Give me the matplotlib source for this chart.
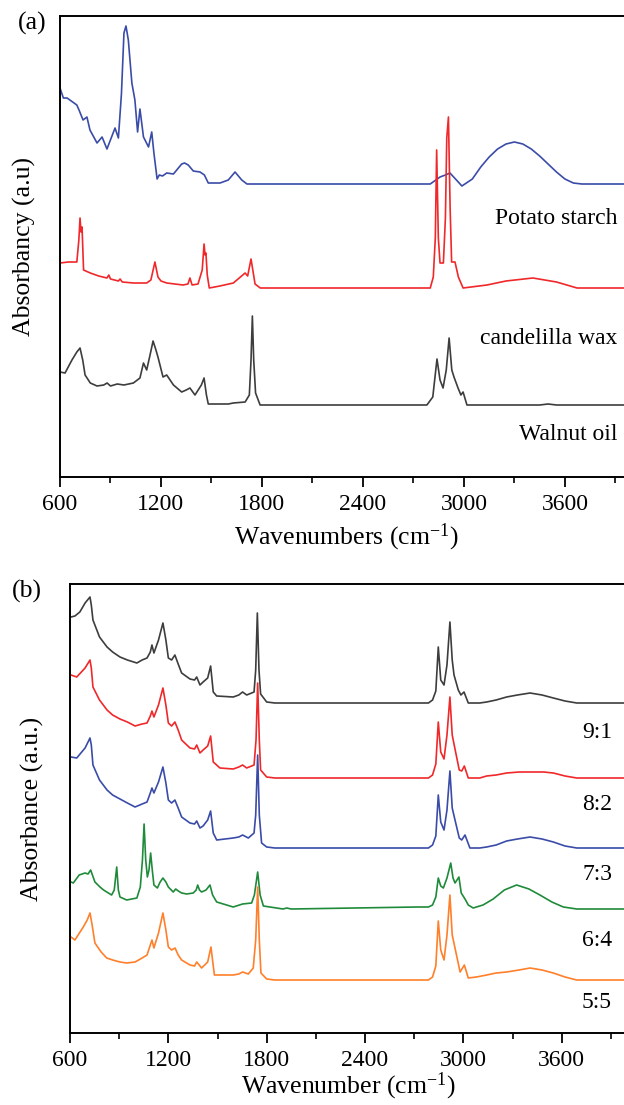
import numpy as np
import matplotlib
matplotlib.use("Agg")
import matplotlib.pyplot as plt
from matplotlib.ticker import MultipleLocator

plt.rcParams['font.family'] = ['Liberation Serif', 'DejaVu Serif']
plt.rcParams['mathtext.fontset'] = 'custom'
plt.rcParams['mathtext.rm'] = 'Liberation Serif'
plt.rcParams['mathtext.default'] = 'regular'

### Panel (a): pure components (absorbance above own baseline, a.u.)
starch_wn = [600, 620, 642, 700, 713, 737, 760, 778, 820, 850, 879, 927, 947, 965, 980, 992,
             1006, 1027, 1045, 1061, 1075, 1096, 1126, 1145, 1158, 1177, 1190, 1209, 1234,
             1274, 1323, 1340, 1362, 1392, 1432, 1458, 1481, 1551, 1600, 1640, 1680, 1711,
             2800, 2858, 2890, 2917, 2950, 2988, 3050, 3100, 3150, 3200, 3250, 3300, 3350,
             3400, 3450, 3500, 3550, 3600, 3650, 3700, 3950]
starch_abs = [96, 86, 86, 79, 74, 64, 67, 54, 41, 47, 35, 56, 46, 90, 151, 158,
              144, 101, 84, 52, 75, 47, 37, 52, 31, 5, 9, 8, 11,
              10, 20, 21, 19, 13, 12, 9, 1, 1, 4, 12, 4, 0,
              0, 7, 9, 11, 5, -2, 5, 17, 27, 35, 40, 42, 40,
              35, 28, 20, 12, 5, 1, 0, 0]

wax_wn = [600, 650, 700, 712, 719, 725, 731, 740, 780, 830, 879, 890, 900, 947, 957, 970,
          1036, 1115, 1140, 1164, 1182, 1200, 1234, 1331, 1360, 1372, 1385, 1420, 1445,
          1456, 1462, 1467, 1475, 1487, 1550, 1630, 1700, 1715, 1735, 1759, 1790,
          2800, 2818, 2830, 2838, 2848, 2858, 2878, 2890, 2898, 2908, 2918, 2927, 2947,
          2967, 2995, 3137, 3250, 3410, 3550, 3672, 3950]
wax_abs = [25, 26, 26, 48, 70, 56, 61, 18, 15, 12, 10, 13, 9, 7, 9, 6,
           5, 5, 8, 26, 11, 7, 5, 3, 4, 10, 3, 4, 18,
           44, 33, 35, 13, 0, 2, 5, 15, 12, 29, 4, 0,
           0, 11, 50, 138, 50, 25, 25, 70, 150, 171, 80, 26, 26,
           11, 0, 3, 7, 10, 6, 0, 0]

walnut_wn = [600, 630, 671, 700, 719, 735, 749, 780, 820, 860, 880, 900, 940, 980, 1036,
             1075, 1096, 1115, 1135, 1153, 1170, 1182, 1212, 1234, 1274, 1323, 1350, 1372,
             1402, 1440, 1456, 1470, 1481, 1600, 1630, 1700, 1725, 1735, 1743, 1751, 1762,
             1789, 2780, 2815, 2840, 2858, 2876, 2895, 2912, 2928, 2941, 2965, 2982, 2995,
             3018, 3450, 3500, 3550, 3950]
walnut_abs = [33, 32, 45, 53, 57, 45, 30, 22, 19, 20, 22, 19, 21, 20, 22,
              27, 42, 35, 50, 64, 55, 48, 28, 30, 20, 13, 15, 17,
              10, 20, 27, 10, 1, 1, 2, 3, 10, 45, 89, 45, 12,
              0, 0, 8, 46, 25, 17, 35, 67, 35, 28, 17, 10, 13,
              0, 0, 1, 0, 0]

### Panel (b): blends
ratio_labels = ['9:1', '8:2', '7:3', '6:4', '5:5']

b91_wn = [606, 630, 660, 692, 722, 730, 740, 780, 826, 860, 905, 950, 1008, 1040, 1070,
          1090, 1100, 1112, 1140, 1167, 1185, 1200, 1220, 1240, 1260, 1281, 1332, 1360,
          1373, 1393, 1412, 1440, 1458, 1474, 1495, 1596, 1630, 1653, 1678, 1723, 1733,
          1743, 1753, 1763, 1800, 1850, 2787, 2812, 2832, 2847, 2862, 2882, 2900, 2918,
          2932, 2943, 2969, 2985, 3004, 3030, 3100, 3142, 3200, 3264, 3330, 3407, 3480,
          3549, 3620, 3692, 3990]
b91_abs = [86, 87, 91, 100, 106, 98, 83, 66, 56, 51, 46, 43, 40, 43, 45,
           51, 58, 50, 63, 80, 63, 45, 43, 48, 39, 30, 24, 23,
           26, 18, 21, 25, 37, 11, 7, 6, 8, 11, 8, 11, 33,
           90, 33, 9, 1, 0, 0, 3, 12, 56, 23, 18, 38, 81,
           43, 28, 13, 8, 11, 0, 0, 1, 3, 6, 8, 10, 8,
           5, 2, 0, 0]

b82_wn = [606, 641, 692, 722, 730, 740, 780, 826, 860, 905, 950, 997, 1040, 1070, 1090,
          1100, 1112, 1140, 1167, 1185, 1200, 1220, 1240, 1260, 1281, 1332, 1360, 1373,
          1393, 1412, 1440, 1458, 1474, 1515, 1596, 1630, 1653, 1678, 1723, 1735, 1745,
          1755, 1763, 1800, 1850, 2787, 2812, 2832, 2847, 2862, 2882, 2900, 2918, 2932,
          2949, 2975, 2990, 3006, 3030, 3100, 3142, 3200, 3264, 3340, 3427, 3490, 3549,
          3620, 3692, 3990]
b82_abs = [103, 101, 110, 118, 110, 91, 78, 68, 63, 59, 56, 52, 54, 55, 62,
           67, 61, 73, 90, 73, 55, 52, 56, 48, 38, 30, 29, 33,
           25, 28, 32, 42, 16, 10, 9, 11, 13, 10, 13, 38, 95,
           38, 8, 1, 0, 0, 3, 14, 56, 26, 19, 43, 81, 43,
           29, 8, 7, 12, 0, 0, 2, 3, 5, 6, 6, 6, 5,
           2, 0, 0]

b73_wn = [606, 641, 692, 722, 730, 740, 780, 826, 860, 905, 950, 997, 1040, 1070, 1090,
          1100, 1112, 1140, 1167, 1185, 1200, 1220, 1240, 1260, 1281, 1332, 1360, 1373,
          1393, 1412, 1440, 1458, 1474, 1495, 1596, 1630, 1653, 1688, 1723, 1733, 1745,
          1755, 1769, 1800, 1850, 2787, 2812, 2832, 2847, 2862, 2882, 2900, 2918, 2932,
          2949, 2975, 2990, 3010, 3040, 3100, 3142, 3200, 3264, 3330, 3407, 3480, 3549,
          3620, 3692, 3990]
b73_abs = [91, 90, 100, 110, 103, 83, 68, 58, 53, 49, 45, 41, 44, 46, 55,
           60, 55, 66, 81, 65, 48, 45, 48, 40, 31, 25, 24, 27,
           20, 22, 28, 37, 15, 8, 10, 11, 13, 10, 15, 33, 93,
           33, 5, 1, 0, 0, 3, 12, 53, 26, 18, 38, 77, 40,
           28, 10, 8, 13, 0, 0, 1, 3, 7, 9, 11, 9, 6,
           2, 0, 0]

b64_wn = [606, 620, 656, 692, 710, 726, 752, 783, 805, 824, 854, 870, 885, 895, 905, 946,
          1008, 1029, 1042, 1052, 1062, 1072, 1082, 1092, 1102, 1112, 1133, 1150, 1167,
          1185, 1200, 1230, 1245, 1261, 1281, 1312, 1352, 1370, 1379, 1390, 1403, 1430,
          1454, 1470, 1495, 1596, 1653, 1708, 1725, 1745, 1760, 1780, 1900, 1922, 1950,
          2720, 2787, 2812, 2832, 2847, 2862, 2878, 2900, 2923, 2937, 2949, 2973, 2987,
          3010, 3030, 3060, 3120, 3182, 3250, 3325, 3400, 3467, 3540, 3610, 3692, 3990]
b64_abs = [27, 26, 34, 36, 35, 39, 27, 22, 19, 17, 14, 19, 42, 19, 12, 9,
           11, 22, 49, 85, 49, 32, 39, 56, 39, 24, 21, 27, 31,
           27, 22, 17, 20, 18, 16, 15, 16, 19, 24, 19, 17, 19,
           24, 14, 7, 2, 5, 6, 14, 37, 14, 3, 0, 1, 0,
           2, 2, 4, 12, 31, 23, 21, 31, 46, 31, 26, 32, 16,
           10, 4, 1, 4, 10, 19, 24, 20, 14, 7, 2, 0, 0]

b55_wn = [606, 630, 681, 705, 722, 735, 752, 790, 824, 860, 905, 946, 997, 1040, 1070,
          1090, 1100, 1112, 1140, 1167, 1185, 1200, 1220, 1241, 1260, 1281, 1332, 1360,
          1373, 1403, 1440, 1460, 1481, 1596, 1630, 1653, 1688, 1718, 1733, 1745, 1755,
          1765, 1800, 1850, 2787, 2812, 2832, 2847, 2862, 2882, 2900, 2918, 2932, 2949,
          2980, 3006, 3030, 3080, 3142, 3200, 3264, 3340, 3407, 3480, 3549, 3620, 3692,
          3990]
b55_abs = [43, 40, 53, 60, 67, 55, 37, 28, 22, 20, 18, 17, 18, 22, 25,
           35, 40, 32, 47, 67, 50, 33, 30, 32, 25, 20, 15, 14,
           18, 12, 18, 33, 5, 5, 6, 8, 6, 12, 40, 93, 40,
           7, 1, 0, 0, 3, 14, 59, 30, 20, 45, 85, 45, 32,
           8, 15, 2, 3, 5, 7, 8, 10, 12, 10, 7, 3, 0,
           0]

# colours
c_blue, c_red, c_gray = '#3a4ca8', '#f0282a', '#3d3d3d'
c_green, c_orange = '#1f8b3a', '#ff7f2a'

W, H = 624, 1105
fig = plt.figure(figsize=(W / 100, H / 100), dpi=100)


def style_axes(ax, xmax):
    ax.set_xlim(600, xmax)
    ax.set_yticks([])
    ax.xaxis.set_major_locator(MultipleLocator(600))
    ax.xaxis.set_minor_locator(MultipleLocator(300))
    ax.tick_params(axis='x', which='major', direction='out', length=7, width=1.3,
                   labelsize=17, pad=5)
    ax.tick_params(axis='x', which='minor', direction='out', length=4, width=1.2)
    for s in ax.spines.values():
        s.set_linewidth(1.4)


# panel (a) axes: left 60px, top 16px, bottom 477px, 0.1683 px per cm-1
ax1 = fig.add_axes([60 / W, 1 - 477 / H, 3400 * 0.1683 / W, 461 / H])
ax1.plot(starch_wn, np.array(starch_abs) + 293, color=c_blue, lw=1.2)
ax1.plot(wax_wn, np.array(wax_abs) + 189, color=c_red, lw=1.2)
ax1.plot(walnut_wn, np.array(walnut_abs) + 72, color=c_gray, lw=1.2)
ax1.set_ylim(0, 461)
style_axes(ax1, 4000)
ax1.set_xlabel('Wavenumbers (cm$^{-1}$)', fontsize=18.5, labelpad=5)
ax1.set_ylabel('Absorbancy (a.u)', fontsize=18.5, labelpad=17)
ax1.text(3910, 477 - 219, 'Potato starch', fontsize=17, ha='right', va='center')
ax1.text(3910, 477 - 338, 'candelilla wax', fontsize=17, ha='right', va='center')
ax1.text(3910, 477 - 434, 'Walnut oil', fontsize=17, ha='right', va='center')
fig.text(32 / W, 1 - 23 / H, '(a)', fontsize=18.5, ha='center', va='center')

# panel (b) axes: left 70px, top 584px, bottom 1033px, 0.1639 px per cm-1
ax2 = fig.add_axes([70 / W, 1 - 1033 / H, 3400 * 0.1639 / W, 449 / H])
blends = [(b91_wn, b91_abs, 330, c_gray), (b82_wn, b82_abs, 255, c_red),
          (b73_wn, b73_abs, 185, c_blue), (b64_wn, b64_abs, 124, c_green),
          (b55_wn, b55_abs, 53, c_orange)]
for wn, ab, off, col in blends:
    ax2.plot(wn, np.array(ab) + off, color=col, lw=1.2)
ax2.set_ylim(0, 449)
style_axes(ax2, 4000)
ax2.set_xlabel('Wavenumber (cm$^{-1}$)', fontsize=18.5, labelpad=0)
ax2.set_ylabel('Absorbance (a.u.)', fontsize=18.5, labelpad=19)
for lab, ypx in zip(ratio_labels, [732, 805, 875, 940, 1003]):
    ax2.text(3907, 1033 - ypx, lab, fontsize=17, ha='right', va='center')
fig.text(27 / W, 1 - 591 / H, '(b)', fontsize=18.5, ha='center', va='center')

fig.savefig('out.png', dpi=100)
